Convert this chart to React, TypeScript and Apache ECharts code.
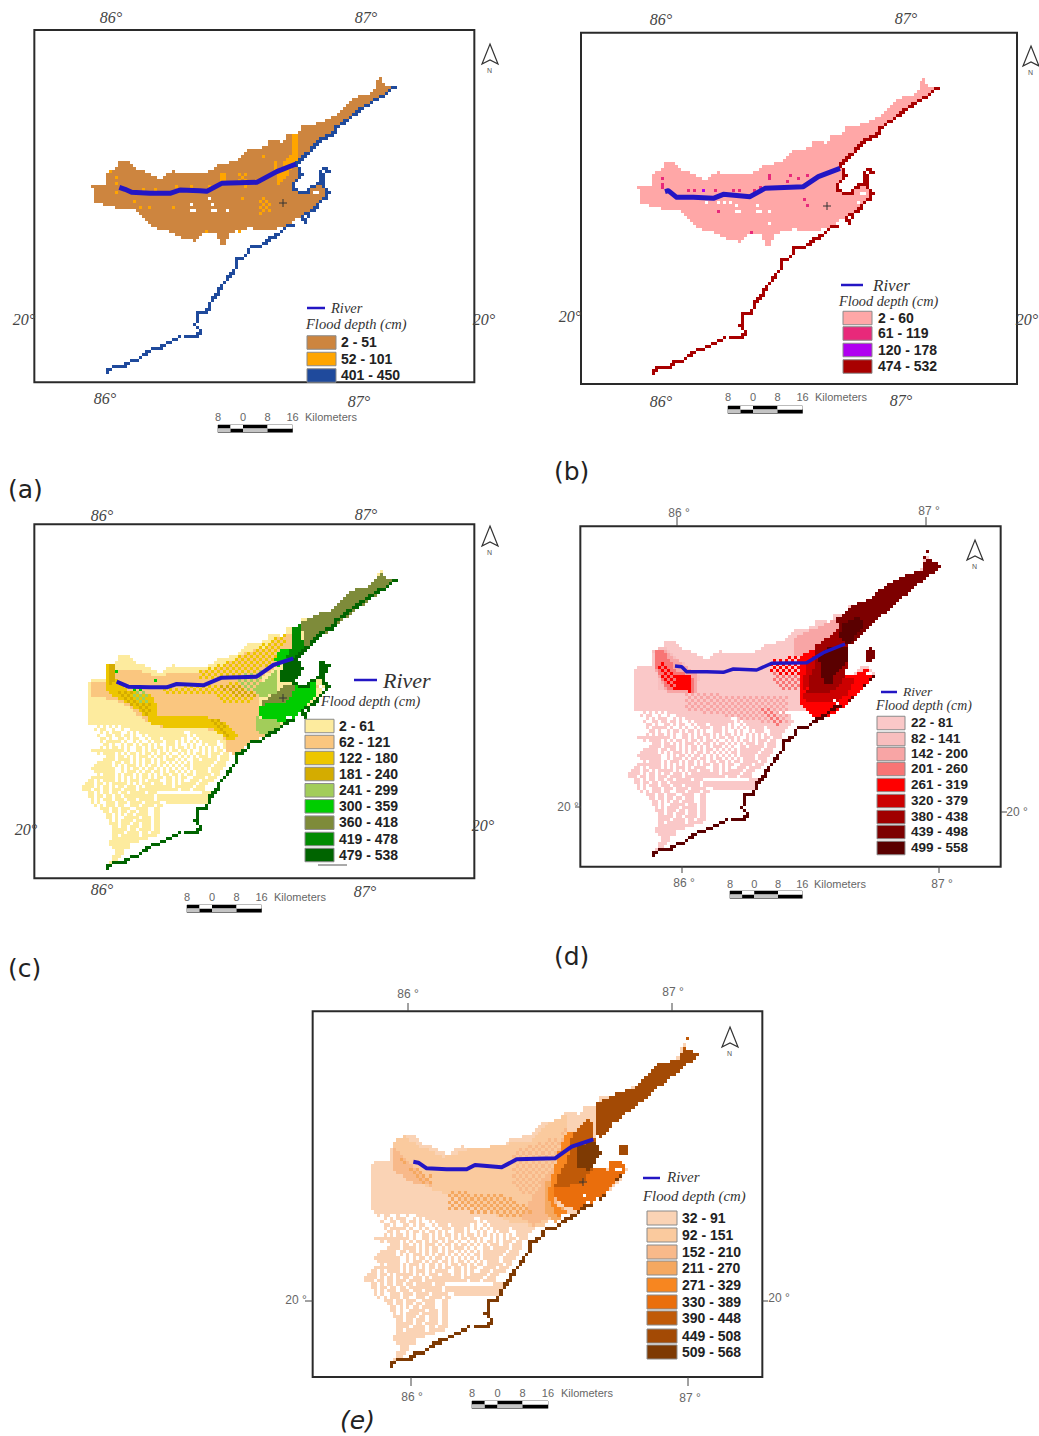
import React, { useEffect, useRef } from "react";
import * as echarts from "echarts";

type Pt = number[];
type Zone = { c: number; p: Pt[]; d?: boolean };

// ---- shared shoreline and flood outline in 1/3 px units
const UPPER_TOP: Pt[] = [[270,557],[318,557],[320,520],[350,500],[355,478],[385,482],[410,505],[440,515],[480,535],[515,512],[560,522],[610,520],[660,492],[710,480],[740,447],[800,440],[810,418],[850,425],[860,405],[890,400],[910,375],[960,368],[1000,350],[1060,290],[1100,285],[1125,265],[1135,235],[1145,232],[1150,250],[1175,262]];
const UPPER_BOTTOM: Pt[] = [[1100,318],[1030,368],[1000,408],[970,415],[925,458],[890,490],[898,505],[905,520],[880,545],[878,565],[900,578],[920,580],[930,560],[962,550],[975,565],[985,580],[940,630],[905,645],[880,662],[850,682],[790,692],[750,682],[690,697],[680,728],[665,733],[650,702],[610,702],[590,722],[560,718],[500,692],[465,682],[430,652],[400,627],[350,622],[320,617],[280,602],[280,570]];
const FULL_EAST: Pt[] = [[1100,315],[1030,365],[1000,405],[970,412],[925,455],[890,490],[898,505],[905,520],[880,545],[878,565],[900,578],[920,580],[930,560],[962,550],[975,565],[985,580],[965,600],[940,630],[915,640],[880,672],[850,685],[835,705],[810,712],[785,735],[750,742],[740,765],[710,778],[708,805],[690,820],[680,840],[660,860],[650,885],[630,905],[620,935],[595,938],[590,965],[585,972],[605,992],[590,1008],[540,1008],[480,1040],[415,1078],[375,1095],[318,1112]];
const FULL_WEST: Pt[] = [[300,1105],[215,880],[270,700],[262,620],[270,553]];
const COAST_UPPER: Pt[] = [[1183,262],[1150,285],[1120,300],[1100,315],[1060,345],[1030,365],[1005,385],[1000,405],[970,412],[950,432],[925,455],[905,475],[890,490],[898,505],[905,520],[898,535],[880,545],[878,565],[900,578],[920,580],[930,560],[950,552],[962,550],[965,530],[960,515],[970,505],[985,515],[968,520],[968,545],[975,565],[985,580],[965,600],[940,630],[915,640],[905,655],[915,665],[922,650]];
const COAST_MID: Pt[] = [[880,672],[850,685],[835,705],[810,712],[785,735],[750,742],[740,765],[710,778],[708,805],[690,820],[680,840],[660,860],[650,885],[630,905],[620,935],[595,938],[590,965],[585,972],[605,992],[590,1008],[555,1008]];
const COAST_LOW: Pt[] = [[540,1008],[520,1020],[480,1040],[440,1055],[415,1078],[395,1078],[375,1095],[340,1100],[318,1112]];

// dendritic lowland, one character per grid cell
const CHANNEL_ROWS = [
"......#.#.#.##.#####################################",
".....#.##..#.#.#..######################################",
".......#.#.##.#..#.#.###############..##################",
"......#..##.#.#.##.#..#.#############.#.#################",
".......##.#...##.#.##..#.###.######.#..#.###############.",
".......#.####.#.#..#.#..#.###.###.#.#.#.#.#####.#######..",
"........##.#.#.#.##.#.##.#.#..###.#..#.#..#.###..#####...",
".......#.#.###.#.#..##.#.#.##.#.#.##.#.#.#.#.#.#.####....",
".....#########.#.#.##.#..#.#.##.#.#..#.##.#.#..#.####....",
"....############.#..##.#.##.#.#.##.##.#..#.#.#.##.###....",
"......#.####.##.#.##.#.##.#.##.#..#.#.#.##.#.###.##......",
".........###.###.#.#.###.#.##.#.##.#.#.#.###.##.###.....",
"........####.#####.#.#.##.#.#.###.#.#..##.#####.###.....",
"......#####.###.##.#.#.##.#.##.#.#.#.#.#######.###......",
".....######.##.#.###.#.#.##.#.#.#.#.##.######.####......",
"....########.#.#.#.##.#.##.#.#.#.#.#.#.#####.####.......",
".....#######.#.#.###.#.##.##.#.##.#.#.#.####.###........",
"......#.####..#.###.#.##.#.#.##.##.#.##.#####.##........",
"....########.##.#.#.#.##.#.##.##.#.##..####.###.........",
"...##.#.####.##.#.###.#.####..##.#.#..###.####..........",
"..###.##.#.##.###.#.#.###.###.##.#.#####.###............",
".####.#.##.#.###.###.#.#########.######.###.............",
".###.##.##.##.#.####.#############.###.####.............",
"...##.#.##.###.##.#####.###...............####..........",
"...##.##.##.###.##########.#############################",
"....#.#.###.####.###.#####.##########################..",
"....#.#..###.####.####.#####..##################.........",
".....#.#.###.###..###.####.##.............................",
".......###.###.###..####..##............................",
"........##.###.##.##.###..##............................",
".........##.##.#.##.####..##............................",
".........##.##..#####.###.##............................",
"..........#.##.####.#####.##............................",
"..........####.###.##.###.##............................",
"...........###.##.###.###.##............................",
"...........##.###.##.####.##............................",
"...........#####.####.##.###............................",
"...........###.######.#####.............................",
"...........#############................................",
"..........###########...................................",
"..........########......................................",
"...........#######......................................",
"............####........................................",
"............####........................................",
"...........####.........................................",
"...........###..........................................",
"..........###...........................................",
".........###............................................",
".........##.............................................",
];

// ---- legends
const LABELS_A = ["2 - 51","52 - 101","401 - 450"];
const COLORS_A = ["#CD853F","#FFA500","#1F4A9C"];
const LABELS_B = ["2 - 60","61 - 119","120 - 178","474 - 532"];
const COLORS_B = ["#FFA7A7","#E8297A","#B000F0","#A80000"];
const LABELS_C = ["2 - 61","62 - 121","122 - 180","181 - 240","241 - 299","300 - 359","360 - 418","419 - 478","479 - 538"];
const COLORS_C = ["#FDEB9E","#FAC67F","#EDC600","#D4AC00","#A2CD5A","#00CD00","#7E8B3A","#008B00","#006400"];
const LABELS_D = ["22 - 81","82 - 141","142 - 200","201 - 260","261 - 319","320 - 379","380 - 438","439 - 498","499 - 558"];
const COLORS_D = ["#FAC8C8","#F8BEBE","#F8A5A5","#F87575","#FF0000","#CC0000","#A00000","#7D0000","#5A0000"];
const LABELS_E = ["32 - 91","92 - 151","152 - 210","211 - 270","271 - 329","330 - 389","390 - 448","449 - 508","509 - 568"];
const COLORS_E = ["#FAD3B5","#FACA9E","#F8B98A","#F5A860","#F78620","#EA6E0C","#C05A08","#A34A05","#7E3A03"];

// ---- rivers, each in its own panel's 1/3 px units
const RIVER_A: Pt[] = [[358,562],[375,568],[395,577],[450,580],[510,580],[540,570],[600,572],[620,574],[665,550],[770,547],[830,515],[888,492]];
const RIVER_B: Pt[] = [[435,575],[445,572],[470,592],[520,592],[580,595],[610,583],[690,590],[735,565],[850,560],[895,530],[960,505]];
const RIVER_C: Pt[] = [[350,575],[385,590],[450,592],[500,592],[530,582],[610,586],[665,563],[770,560],[820,525],[880,505]];
const RIVER_D: Pt[] = [[465,528],[485,530],[500,545],[560,545],[610,547],[640,537],[710,540],[755,520],[860,518],[910,488],[975,462]];
const RIVER_E: Pt[] = [[400,575],[415,578],[440,595],[500,598],[560,598],[585,585],[665,592],[710,568],[825,565],[875,530],[940,508]];

// ---- depth zones by panel
const ZONES_A: Zone[] = [
  { c: 1, p: [[880,400],[892,400],[892,490],[835,555],[835,520],[850,490],[880,455]] },
  { c: 1, p: [[820,480],[835,480],[835,520],[820,520]] },
  { c: 1, p: [[780,590],[810,600],[815,635],[780,640]], d: true },
  { c: 1, p: [[663,520],[680,520],[680,548],[663,548]] },
  { c: 1, p: [[715,512],[745,520],[745,545],[715,545]], d: true },
];
const CELLS_A: number[][] = [[330,512,1],[345,530,1],[350,550,1],[350,575,1],[400,605,1],[425,625,1],[450,625,1],[520,625,1],[620,690,1],[715,690,1],[730,590,1],[790,465,1],[430,565,1],[470,565,1],[530,560,1],[570,560,1],[630,560,1],[740,560,1],[575,610,-1],[625,590,-1],[640,608,-1],[575,628,-1],[585,628,-1],[633,628,-1],[650,628,-1],[680,628,-1],[945,575,-1],[955,575,-1]];
const ZONES_B: Zone[] = [];
const CELLS_B: number[][] = [[428,540,1],[428,550,1],[428,560,1],[510,570,1],[525,575,1],[640,568,1],[655,568,1],[700,568,1],[725,560,1],[745,530,1],[745,540,1],[810,530,1],[800,548,1],[838,538,1],[865,530,1],[857,595,1],[865,615,1],[595,632,1],[698,697,1],[585,570,1],[548,568,2],[558,605,-1],[595,605,-1],[613,605,-1],[632,605,-1],[652,615,-1],[652,632,-1],[660,632,-1],[715,615,-1],[708,632,-1],[725,632,-1],[752,632,-1],[752,670,-1],[1020,585,-1],[1030,580,-1],[1015,605,-1]];
const ZONES_C: Zone[] = [
  { c: 1, p: [[270,575],[325,575],[345,540],[410,540],[480,560],[520,545],[600,545],[680,525],[740,485],[800,470],[830,440],[880,425],[880,500],[790,560],[780,640],[770,700],[810,730],[745,760],[705,795],[680,780],[670,730],[600,710],[500,715],[440,695],[390,655],[340,630],[270,620]] },
  { c: 2, p: [[320,520],[345,520],[350,575],[380,600],[460,620],[480,690],[440,680],[380,640],[340,620],[320,600]] },
  { c: 2, p: [[440,670],[520,680],[620,680],[680,700],[720,740],[690,755],[640,715],[500,712],[440,695]] },
  { c: 2, d: true, p: [[480,595],[760,575],[780,540],[790,590],[760,640],[680,640],[640,615],[500,610]] },
  { c: 2, d: true, p: [[600,545],[740,490],[810,450],[870,430],[830,500],[780,545],[680,560],[600,570]] },
  { c: 3, d: true, p: [[350,600],[420,610],[460,640],[450,680],[400,650],[350,620]] },
  { c: 3, d: true, p: [[620,680],[660,690],[700,740],[680,745],[640,710]] },
  { c: 3, d: true, p: [[660,590],[760,580],[770,620],[700,620]] },
  { c: 3, p: [[325,520],[345,520],[345,575],[325,590]] },
  { c: 4, d: true, p: [[395,600],[445,600],[445,645],[395,630]] },
  { c: 4, d: true, p: [[700,560],[790,540],[790,600],[740,600]] },
  { c: 4, p: [[770,590],[830,540],[830,610],[775,625]] },
  { c: 4, p: [[770,680],[830,690],[850,705],[800,740],[770,720]] },
  { c: 5, p: [[780,650],[860,620],[885,590],[925,580],[950,575],[950,615],[920,650],[890,680],[855,695],[780,680]] },
  { c: 5, p: [[840,480],[880,470],[880,500],[835,530],[825,510]] },
  { c: 6, p: [[900,400],[950,375],[1000,360],[1060,300],[1100,290],[1130,265],[1140,245],[1155,265],[1185,272],[1090,345],[1000,415],[950,450],[915,480],[910,425]] },
  { c: 6, p: [[780,640],[830,610],[855,585],[885,590],[875,620],[860,640],[790,645]] },
  { c: 7, p: [[875,420],[900,405],[915,480],[890,510],[860,500],[875,470]] },
  { c: 8, p: [[850,515],[895,505],[910,540],[885,580],[840,575]] },
  { c: 8, p: [[955,515],[985,520],[985,535],[975,560],[955,555]] },
];
const CELLS_C: number[][] = [[350,545,5],[405,600,5],[420,600,5],[470,575,5],[860,680,-1],[870,680,-1],[900,670,-1],[920,650,-1],[965,590,-1],[975,595,-1],[955,590,1]];
const ZONES_D: Zone[] = [
  { c: 2, d: true, p: [[500,610],[800,620],[800,700],[740,700],[500,660]] },
  { c: 1, p: [[400,480],[430,470],[540,560],[530,600],[420,600]] },
  { c: 2, p: [[405,480],[430,480],[530,550],[530,605],[440,605],[405,530]] },
  { c: 2, p: [[820,445],[960,380],[960,430],[890,480],[860,490],[820,510]] },
  { c: 3, d: true, p: [[700,650],[755,650],[790,710],[760,710]] },
  { c: 3, d: true, p: [[750,550],[850,540],[850,600],[780,600]] },
  { c: 3, p: [[410,480],[430,480],[470,540],[520,560],[520,605],[440,600],[410,530]] },
  { c: 4, d: true, p: [[425,500],[465,550],[470,600],[440,590],[415,530]] },
  { c: 4, p: [[470,550],[515,550],[515,605],[470,600]] },
  { c: 4, d: true, p: [[750,515],[860,490],[870,530],[850,560],[750,545]] },
  { c: 4, p: [[835,520],[860,490],[890,470],[890,520],[870,560],[860,605],[930,605],[965,550],[1010,550],[1040,530],[1065,555],[1015,610],[960,660],[900,690],[870,675],[845,645],[835,610]] },
  { c: 5, p: [[850,605],[930,605],[965,560],[1010,560],[985,610],[950,635],[890,640],[850,630]] },
  { c: 5, p: [[860,520],[890,490],[890,520],[870,560],[860,600],[845,590]] },
  { c: 6, p: [[885,470],[925,440],[960,410],[985,470],[985,515],[965,580],[930,605],[860,605],[870,560],[890,510]] },
  { c: 7, p: [[950,385],[1000,345],[1050,325],[1100,285],[1145,260],[1205,240],[1220,205],[1232,205],[1265,230],[1180,295],[1110,355],[1040,420],[985,470],[960,440]] },
  { c: 8, p: [[965,400],[1020,380],[1030,410],[985,465],[960,440]] },
  { c: 8, p: [[925,470],[985,470],[985,515],[945,550],[935,580],[915,585],[905,560],[895,500]] },
  { c: 7, p: [[1040,480],[1055,475],[1068,490],[1055,515],[1035,515]] },
];
const CELLS_D: number[][] = [[945,630,-1],[955,640,-1],[985,632,7],[995,622,7],[1040,550,-1],[1050,550,-1],[1060,555,8],[1050,570,8],[1030,590,8],[1225,185,7],[1215,205,7]];
const ZONES_E: Zone[] = [
  { c: 1, p: [[340,520],[370,495],[420,530],[490,560],[560,540],[750,510],[800,460],[860,430],[860,570],[820,640],[830,730],[790,770],[700,760],[640,730],[440,650],[340,600]] },
  { c: 2, p: [[340,530],[390,580],[460,650],[400,640],[340,600]] },
  { c: 2, d: true, p: [[700,540],[840,500],[860,470],[860,570],[830,640],[790,700],[700,650]] },
  { c: 2, p: [[800,620],[860,570],[830,640],[830,730],[760,770],[720,740]] },
  { c: 3, d: true, p: [[500,660],[700,680],[760,730],[700,740],[500,720]] },
  { c: 3, d: true, p: [[350,540],[360,580],[420,600],[460,620],[460,650],[420,640]] },
  { c: 3, p: [[790,640],[830,620],[825,720],[860,710],[830,760],[790,720]] },
  { c: 4, p: [[850,500],[880,480],[880,590],[830,640],[820,700],[860,725],[830,740],[800,680]] },
  { c: 5, p: [[825,650],[890,630],[925,590],[985,600],[990,572],[1020,570],[1040,600],[960,680],[900,722],[860,712],[825,680]] },
  { c: 6, p: [[880,490],[930,440],[945,510],[965,545],[935,600],[910,640],[825,655],[830,620],[860,580]] },
  { c: 7, p: [[945,405],[1000,375],[1060,355],[1130,285],[1200,265],[1210,220],[1225,240],[1258,255],[1170,325],[1060,415],[1000,460],[960,510],[945,470]] },
  { c: 8, p: [[890,530],[945,510],[965,545],[945,580],[930,600],[890,590]] },
  { c: 7, p: [[1015,520],[1045,525],[1040,550],[1015,560]] },
];
const CELLS_E: number[][] = [[910,680,-1],[920,695,-1],[960,690,8],[970,675,8],[1010,595,-1],[1020,600,-1],[1010,630,8],[1025,615,8],[1225,205,6],[1215,235,6]];

// ---- panels: frame in 1/3 px units; origin in px
const PANELS = [
  { ox: 0, oy: 0, x0: 103, x1: 1423, y0: 90, y1: 1147, end: [318,1112], k: [1,1], full: false, limit: 0, zones: ZONES_A, cells: CELLS_A, colors: COLORS_A, river: RIVER_A, rw: 5, upper: true },
  { ox: 520, oy: 0, x0: 183, x1: 1491, y0: 98, y1: 1152, end: [395,1117], k: [0.992,1.001], full: false, limit: 0, zones: ZONES_B, cells: CELLS_B, colors: COLORS_B, river: RIVER_B, rw: 5, upper: true },
  { ox: 0, oy: 490, x0: 103, x1: 1423, y0: 103, y1: 1165, end: [318,1132], k: [1.002,1.012], full: true, limit: 700, zones: ZONES_C, cells: CELLS_C, colors: COLORS_C, river: RIVER_C, rw: 4, upper: true },
  { ox: 520, oy: 490, x0: 181, x1: 1442, y0: 109, y1: 1130, end: [397,1093], k: [1.003,1.015], full: true, limit: 660, zones: ZONES_D, cells: CELLS_D, colors: COLORS_D, river: RIVER_D, rw: 3.5, upper: false },
  { ox: 280, oy: 970, x0: 98, x1: 1447, y0: 124, y1: 1221, end: [330,1183], k: [1.073,1.092], full: true, limit: 728, zones: ZONES_E, cells: CELLS_E, colors: COLORS_E, river: RIVER_E, rw: 4, upper: false },
];

function inside(x: number, y: number, poly: Pt[]) {
  let hit = false;
  for (let i = 0, j = poly.length - 1; i < poly.length; j = i++) {
    const [xi, yi] = poly[i], [xj, yj] = poly[j];
    if (yi > y !== yj > y && x < ((xj - xi) * (y - yi)) / (yj - yi) + xi) hit = !hit;
  }
  return hit;
}

function rasterise(P: (typeof PANELS)[number]) {
  const [ex, ey] = P.end, [kx, ky] = P.k;
  const w = 9 * kx, h = 9 * ky;
  const toP = (p: Pt) => [ex + (p[0] - 318) * kx, ey + (p[1] - 1112) * ky];
  const I0 = -14, I1 = 112, J0 = -108, J1 = 6;
  const grid = new Map<number, number>();
  const key = (i: number, j: number) => (j - J0) * 1000 + (i - I0);
  const cx = (i: number) => ex + (i + 0.5) * w;
  const cy = (j: number) => ey + (j + 0.5) * h;
  const outline = (P.full ? [...UPPER_TOP, ...FULL_EAST, ...FULL_WEST] : [...UPPER_TOP, ...UPPER_BOTTOM]).map(toP);
  for (let j = J0; j < J1; j++)
    for (let i = I0; i < I1; i++) {
      const x = cx(i), y = cy(j);
      if (!inside(x, y, outline)) continue;
      if (P.full && y >= P.limit) {
        const u = 318 + (x - ex) / kx, v = 1112 + (y - ey) / ky;
        const zx = 1265 + (u - 1183) * 1.003, zy = 230 + (v - 262) * 1.015;
        const row = CHANNEL_ROWS[Math.floor((zy - 660) / 9)];
        if (!row || row[Math.floor((zx - 312) / 9)] !== "#") continue;
      }
      grid.set(key(i, j), 0);
    }
  for (const z of P.zones)
    for (let j = J0; j < J1; j++)
      for (let i = I0; i < I1; i++) {
        if (z.d && (i + j) % 2 !== 0) continue;
        if (inside(cx(i), cy(j), z.p)) grid.set(key(i, j), z.c);
      }
  for (const c of P.cells) {
    const i = Math.floor((c[0] - ex) / w), j = Math.floor((c[1] - ey) / h);
    if (c[2] < 0) grid.delete(key(i, j));
    else grid.set(key(i, j), c[2]);
  }
  const coast = P.upper ? [COAST_UPPER, COAST_MID, COAST_LOW] : [COAST_MID, COAST_LOW];
  for (const seg of coast) {
    const pts = seg.map(toP);
    for (let s = 0; s + 1 < pts.length; s++) {
      const [a, b] = [pts[s], pts[s + 1]];
      const n = Math.ceil(Math.max(Math.abs(b[0] - a[0]), Math.abs(b[1] - a[1])) / 6) || 1;
      for (let t = 0; t <= n; t++) {
        const x = a[0] + ((b[0] - a[0]) * t) / n, y = a[1] + ((b[1] - a[1]) * t) / n;
        grid.set(key(Math.floor((x - ex) / w), Math.floor((y - ey) / h)), P.colors.length - 1);
      }
    }
  }
  const runs: number[][] = [];
  for (let j = J0; j < J1; j++) {
    let start = 0, cur = -1;
    for (let i = I0; i <= I1; i++) {
      const g = grid.get(key(i, j));
      const val = g === undefined ? -1 : g;
      if (val !== cur) {
        if (cur >= 0) runs.push([ex + start * w, ex + i * w, ey + j * h, ey + (j + 1) * h, cur]);
        start = i;
        cur = val;
      }
    }
  }
  return runs;
}

const SERIF = "'Liberation Serif'";
const SANS = "'Liberation Sans'";

function txt(text: string, x: number, y: number, font: string, fill: string, textAlign = "left") {
  return { type: "text", x, y, silent: true, style: { text, font, fill, textAlign, textVerticalAlign: "middle" } };
}
function ln(x1: number, y1: number, x2: number, y2: number, stroke: string, lineWidth = 1) {
  return { type: "line", silent: true, shape: { x1, y1, x2, y2 }, style: { stroke, lineWidth } };
}
function box(x: number, y: number, width: number, height: number, fill: string, stroke?: string) {
  return { type: "rect", silent: true, shape: { x, y, width, height }, style: { fill, stroke: stroke || "none", lineWidth: stroke ? 1 : 0 } };
}
function legend(labels: string[], colors: string[], x: number, w: number, ys: number[], tx: number, sh: number, fs = 14) {
  const out: any[] = [];
  labels.forEach((l, i) => {
    out.push(box(x, ys[i] - sh / 2, w, sh, colors[i], "#8a8a8a"));
    out.push(txt(l, tx, ys[i] - 0.5, `bold ${fs}px ${SANS}`, "#222"));
  });
  return out;
}
function scalebar(x: number, y: number, ly: number, kmx: number, s = 1) {
  const xs = [0, 12.5, 25, 49.5, 74.5].map((v) => x + v * s);
  const out: any[] = [box(x, y, 74.5 * s, 7.5, "#fff", "#777")];
  for (let i = 0; i < 4; i++) {
    out.push(box(xs[i], y + (i % 2 ? 3.5 : 0), xs[i + 1] - xs[i], 3.5, "#000"));
    out.push(box(xs[i], y + (i % 2 ? 0 : 3.5), xs[i + 1] - xs[i], 3.5, i % 2 ? "#fff" : "#c4c4c4"));
  }
  ["8", "0", "8", "16"].forEach((t, i) => out.push(txt(t, i === 0 ? xs[0] : xs[i + 1], ly, `11px ${SANS}`, "#666", "center")));
  out.push(txt("Kilometers", kmx, ly, `11px ${SANS}`, "#666"));
  return out;
}
function north(x: number, y: number, h = 20, hw = 8) {
  return [
    { type: "polygon", silent: true, shape: { points: [[x, y], [x + hw, y + h], [x, y + h - 4], [x - hw, y + h]] }, style: { fill: "#fff", stroke: "#333", lineWidth: 1.2 } },
    txt("N", x - 0.5, y + h + 6, `7px ${SANS}`, "#555", "center"),
  ];
}
function cross(x: number, y: number) {
  return [ln(x - 4, y, x + 4, y, "#333"), ln(x, y - 4, x, y + 4, "#333")];
}
const deg = (t: string, x: number, y: number) => txt(t, x, y, `italic 16px ${SERIF}`, "#444", "center");
const degS = (t: string, x: number, y: number) => txt(t, x, y, `12px ${SANS}`, "#666", "center");
const tag = (t: string, x: number, y: number, it = false) => txt(t, x, y, `${it ? "italic " : ""}25px 'DejaVu Sans'`, "#222");
const riverT = (x: number, y: number, size: number) => txt("River", x, y, `italic ${size}px ${SERIF}`, "#333");
const floodT = (x: number, y: number, size: number) => txt("Flood depth (cm)", x, y, `italic ${size}px ${SERIF}`, "#333");
const rl = (x1: number, x2: number, y: number, w = 2.5) => ln(x1, y, x2, y, "#2316c4", w);

function buildGraphic() {
  return [
    deg("86°", 111, 17), deg("87°", 366, 17), deg("86°", 105, 398), deg("87°", 359, 401), deg("20°", 24, 319), deg("20°", 484, 319),
    deg("86°", 661, 19), deg("87°", 906, 18), deg("86°", 661, 401), deg("87°", 901, 400), deg("20°", 570, 316), deg("20°", 1027, 319),
    deg("86°", 102, 515), deg("87°", 366, 514), deg("86°", 102, 889), deg("87°", 365, 891), deg("20°", 26, 829), deg("20°", 483, 825),
    degS("86 °", 679, 513), degS("87 °", 929, 511), degS("86 °", 684, 883), degS("87 °", 942, 884), degS("20 °", 568, 807), degS("20 °", 1017, 812),
    degS("86 °", 408, 994), degS("87 °", 673, 992), degS("86 °", 412, 1397), degS("87 °", 690, 1398), degS("20 °", 296, 1300), degS("20 °", 779, 1298),
    ln(677, 517, 677, 526, "#444"), ln(926, 517, 926, 526, "#444"), ln(682, 866, 682, 873, "#444"), ln(939, 866, 939, 873, "#444"), ln(575, 807, 581, 807, "#444"), ln(1001, 812, 1007, 812, "#444"),
    ln(408, 1003, 408, 1011, "#444"), ln(672, 1003, 672, 1011, "#444"), ln(411, 1377, 411, 1386, "#444"), ln(688, 1377, 688, 1386, "#444"), ln(305, 1301, 313, 1301, "#444"), ln(762, 1301, 768, 1301, "#444"),
    tag("(a)", 8, 489), tag("(b)", 554, 471), tag("(c)", 8, 968), tag("(d)", 554, 956), tag("(e)", 340, 1420, true),
    ...north(490, 44), ...north(1031, 46), ...north(490, 526), ...north(975, 540), ...north(730, 1027),
    ...cross(283, 203), ...cross(827, 206), ...cross(283, 698), ...cross(583, 1182),
    ...scalebar(218, 425, 417, 305), ...scalebar(728, 406, 397, 815), ...scalebar(187, 905, 897, 274), ...scalebar(730, 891, 884, 814, 0.97), ...scalebar(472, 1401, 1393, 561, 1.02),
    rl(307, 325, 308), riverT(331, 308, 14.5), floodT(306, 324, 14.5),
    ...legend(LABELS_A, COLORS_A, 307, 29, [342.5, 359, 375.5], 341, 13.5),
    rl(841, 863, 285), riverT(873, 285, 17), floodT(839, 301, 14.3),
    ...legend(LABELS_B, COLORS_B, 843, 29, [318, 333.5, 350, 366.5], 878, 13.5),
    rl(354, 377, 680), riverT(383, 680, 22), floodT(321, 701, 14.3),
    ...legend(LABELS_C, COLORS_C, 305, 29, [726, 742, 758, 774, 790.3, 806.3, 822.7, 839, 855], 339, 13.5),
    ln(318, 865, 347, 865, "#555"),
    rl(881, 897, 692), riverT(903, 691, 13.5), floodT(876, 705, 13.8),
    ...legend(LABELS_D, COLORS_D, 877, 28, [723, 739, 754, 769, 785, 801, 817, 832, 848], 911, 13.5, 13.5),
    rl(643, 660, 1178), riverT(667, 1177, 15), floodT(643, 1196, 14.8),
    ...legend(LABELS_E, COLORS_E, 647, 30, [1218, 1235, 1252, 1268, 1285, 1302, 1318, 1336, 1352], 682, 14),
  ];
}

export default function App() {
  const ref = useRef<HTMLDivElement>(null);
  useEffect(() => {
    const chart = echarts.init(ref.current!, undefined, { renderer: "svg" });
    const grid: any[] = [], xAxis: any[] = [], yAxis: any[] = [], series: any[] = [];
    PANELS.forEach((P, idx) => {
      grid.push({ show: true, left: P.ox + P.x0 / 3, top: P.oy + P.y0 / 3, width: (P.x1 - P.x0) / 3, height: (P.y1 - P.y0) / 3, borderColor: "#2a2a2a", borderWidth: 2, backgroundColor: "#fff" });
      xAxis.push({ type: "value", gridIndex: idx, min: P.x0, max: P.x1, show: false });
      yAxis.push({ type: "value", gridIndex: idx, min: P.y0, max: P.y1, inverse: true, show: false });
      const palette = P.colors;
      series.push({
        type: "custom", xAxisIndex: idx, yAxisIndex: idx, silent: true, progressive: 0, clip: true,
        encode: { x: [0, 1], y: [2, 3] },
        data: rasterise(P),
        renderItem: (_: any, api: any) => {
          const a = api.coord([api.value(0), api.value(2)]);
          const b = api.coord([api.value(1), api.value(3)]);
          const x = Math.round(a[0]), y = Math.round(a[1]);
          return { type: "rect", shape: { x, y, width: Math.round(b[0]) - x, height: Math.round(b[1]) - y }, style: { fill: palette[api.value(4)] } };
        },
      });
      series.push({
        type: "line", xAxisIndex: idx, yAxisIndex: idx, data: P.river, showSymbol: false, silent: true, z: 5,
        lineStyle: { color: "#2316c4", width: P.rw, join: "round" },
      });
    });
    chart.setOption({ animation: false, backgroundColor: "#fff", grid, xAxis, yAxis, series, graphic: { elements: buildGraphic().map((e) => ({ ...e, z: 10 })) } });
    return () => chart.dispose();
  }, []);
  return <div ref={ref} style={{ position: "absolute", left: 0, top: 0, width: 1039, height: 1436 }} />;
}
